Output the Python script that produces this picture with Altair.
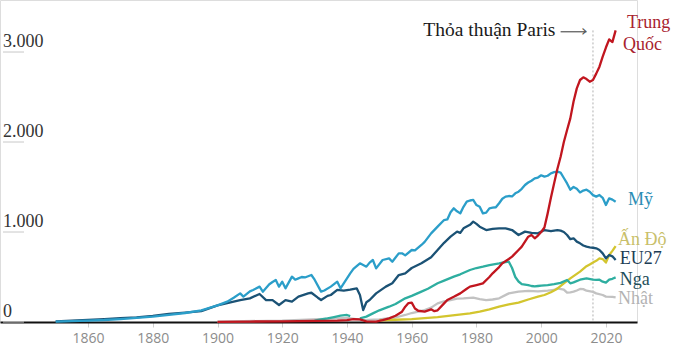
import altair as alt
import pandas as pd

# ---------------- data (million tonnes of carbon) ----------------
us_years = [1850,1855,1860,1865,1870,1875,1880,1885,1890,1895,1900,1903,1905,1907,1908,1910,1911,1913,1914,1916,1917,1918,1919,1920,1921,1923,1924,1925,1926,1927,1929,1930,1932,1933,1935,1937,1938,1939,1941,1942,1944,1946,1947,1948,1949,1951,1953,1954,1956,1957,1958,1960,1961,1963,1964,1966,1968,1970,1971,1972,1973,1974,1975,1976,1977,1978,1979,1980,1981,1982,1983,1984,1985,1986,1987,1988,1989,1990,1991,1992,1993,1994,1995,1996,1997,1998,1999,2000,2001,2002,2003,2004,2005,2006,2007,2008,2009,2010,2011,2012,2013,2014,2015,2016,2017,2018,2019,2020,2021,2022,2023]
us_vals = [5,10,16,22,32,45,60,80,100,130,185,226,270,318,282,340,356,393,337,420,445,467,393,448,374,504,470,485,500,495,522,470,337,350,393,448,374,430,541,590,652,615,660,689,596,689,707,670,763,763,740,800,795,856,890,985,1060,1133,1140,1220,1263,1230,1207,1280,1337,1350,1356,1300,1281,1207,1215,1263,1270,1275,1320,1370,1393,1400,1395,1430,1448,1480,1522,1550,1570,1596,1605,1630,1615,1625,1652,1665,1670,1660,1600,1540,1470,1500,1480,1440,1460,1470,1448,1410,1393,1411,1380,1300,1374,1360,1337]

eu_years = [1850,1855,1860,1865,1870,1875,1880,1885,1890,1895,1900,1903,1907,1910,1913,1915,1917,1919,1921,1923,1925,1928,1929,1931,1932,1934,1935,1937,1939,1941,1943,1944,1945,1946,1947,1949,1952,1954,1956,1958,1960,1963,1966,1968,1970,1972,1974,1975,1976,1978,1979,1980,1981,1983,1985,1987,1989,1991,1993,1995,1997,1999,2001,2003,2005,2006,2007,2008,2009,2010,2011,2012,2013,2014,2015,2016,2017,2018,2019,2020,2021,2022,2023]
eu_vals = [8,14,22,32,42,52,68,90,105,120,185,210,244,263,311,244,244,189,244,226,282,318,325,270,244,290,300,356,348,360,374,300,133,220,244,318,393,430,522,541,600,652,720,800,880,948,1004,990,1041,1080,1115,1090,1059,1022,1035,1041,1040,1022,967,1004,990,985,1022,1010,1022,1015,1000,967,920,930,893,874,850,837,830,825,819,800,763,707,744,730,689]

cn_years = [1900,1910,1920,1930,1937,1940,1942,1944,1946,1949,1951,1953,1955,1957,1958,1959,1960,1961,1962,1964,1966,1967,1968,1970,1971,1973,1975,1977,1978,1980,1982,1984,1985,1987,1988,1990,1991,1993,1994,1996,1997,1998,1999,2000,2001,2002,2003,2004,2005,2006,2007,2008,2009,2010,2011,2012,2013,2014,2015,2016,2017,2018,2019,2020,2021,2022,2023]
cn_vals = [2,5,8,12,15,20,33,30,8,5,20,41,70,115,170,210,215,150,125,115,141,120,130,207,244,280,318,370,393,411,430,500,541,610,652,700,726,800,837,948,967,930,960,1000,1050,1207,1380,1541,1700,1837,2000,2133,2263,2450,2596,2689,2719,2700,2670,2690,2760,2837,2948,3050,3140,3110,3240]

ru_a_years = [1930,1932,1934,1936,1938,1940,1941]
ru_a_vals = [15,28,40,55,70,78,65]
ru_years = [1944,1946,1948,1950,1953,1955,1958,1960,1963,1965,1968,1970,1973,1975,1978,1980,1982,1984,1987,1988,1990,1991,1992,1993,1994,1995,1996,1997,1998,1999,2000,2002,2004,2006,2008,2009,2010,2012,2014,2016,2017,2018,2019,2020,2021,2022,2023]
ru_vals = [41,60,96,130,170,200,263,290,337,370,430,460,504,530,578,600,615,633,652,660,670,600,500,450,420,415,410,400,395,400,405,410,420,435,467,430,440,470,485,470,467,470,448,437,470,480,496]

jp_years = [1900,1920,1937,1940,1945,1950,1955,1958,1960,1962,1964,1966,1968,1970,1972,1974,1976,1979,1981,1983,1985,1987,1990,1993,1996,1999,2002,2004,2005,2007,2008,2009,2010,2011,2012,2013,2014,2016,2017,2019,2020,2022,2023]
jp_vals = [5,15,40,45,20,30,50,78,100,115,133,160,207,230,244,260,263,270,255,244,250,263,318,337,345,340,348,356,374,360,326,330,337,350,367,365,348,335,318,300,282,280,274]

in_years = [1950,1955,1960,1963,1968,1974,1978,1981,1984,1987,1990,1993,1996,1999,2001,2003,2005,2007,2009,2010,2012,2014,2015,2016,2017,2018,2019,2020,2021,2022,2023]
in_vals = [18,25,33,41,55,78,95,115,140,170,195,215,250,282,300,330,370,430,485,510,560,620,640,660,680,707,700,660,744,790,844]

series_names = ["Nhật", "Ấn Độ", "Nga", "EU27", "Mỹ", "Trung Quốc"]
series_colors = ["#c2c2c2", "#d3c52e", "#2eaea0", "#1b5275", "#2b9ec9", "#c1161f"]

label_text = ["Trung", "Quốc", "Mỹ", "Ấn Độ", "EU27", "Nga", "Nhật"]
label_year = [2026.5, 2025.3, 2026.8, 2023.7, 2024.3, 2024.3, 2023.7]
label_val = [3270, 3020, 1300, 855, 640, 411, 200]
label_color = ["#a8222e", "#a8222e", "#2a8db5", "#c9bf6a", "#1d3d55", "#1f4f5a", "#b3b3b3"]

ytick_vals = [0, 1000, 2000, 3000]
ytick_labels = ["0", "1.000", "2.000", "3.000"]
xtick_vals = [1860, 1880, 1900, 1920, 1940, 1960, 1980, 2000, 2020]

paris_year = 2016
paris_text = "Thỏa thuận Paris"

# ---------------- build tables ----------------
series_data = {
    "Nhật": [(jp_years, jp_vals)],
    "Ấn Độ": [(in_years, in_vals)],
    "Nga": [(ru_a_years, ru_a_vals), (ru_years, ru_vals)],
    "EU27": [(eu_years, eu_vals)],
    "Mỹ": [(us_years, us_vals)],
    "Trung Quốc": [(cn_years, cn_vals)],
}

xs = alt.Scale(domain=[1832.8, 2029.6], nice=False, zero=False)
ys = alt.Scale(domain=[0, 3578], nice=False, zero=False)
serif = "Liberation Serif"

xaxis = alt.Axis(values=xtick_vals, format="d", title=None, grid=False,
                 labelFont="Open Sans", labelFontSize=14, labelColor="#8c8c8c",
                 domainColor="#111111", domainWidth=2, tickColor="#cfcfcf",
                 tickSize=5, labelPadding=4, labelFlush=False)

line_layers = []
for name, col in zip(series_names, series_colors):
    rows = []
    for si, (yy, vv) in enumerate(series_data[name]):
        for y, v in zip(yy, vv):
            rows.append({"year": y, "value": v, "seg": si})
    d = pd.DataFrame(rows)
    line_layers.append(
        alt.Chart(d).mark_line(strokeWidth=2.3, strokeJoin="round", color=col).encode(
            x=alt.X("year:Q", scale=xs, axis=xaxis),
            y=alt.Y("value:Q", scale=ys, axis=None),
            detail="seg:N",
            order=alt.Order("year:Q"),
        )
    )

ydf = pd.DataFrame({"v": ytick_vals, "lab": ytick_labels})
ygrid = alt.Chart(ydf).mark_rule(color="#c8c8c8", strokeWidth=1).encode(
    y=alt.Y("v:Q", scale=ys, axis=None), x=alt.value(3), x2=alt.value(24))
ytext = alt.Chart(ydf).mark_text(align="left", baseline="alphabetic", dy=-5,
                                 font=serif, fontSize=18, color="#333333").encode(
    y=alt.Y("v:Q", scale=ys, axis=None), x=alt.value(3), text="lab:N")

pdf = pd.DataFrame({"year": [paris_year], "top": [3240], "bot": [0]})
paris_rule = alt.Chart(pdf).mark_rule(color="#b0b0b0", strokeWidth=1, strokeDash=[2, 2]).encode(
    x=alt.X("year:Q", scale=xs, axis=xaxis), y=alt.Y("top:Q", scale=ys, axis=None), y2="bot:Q")
ptdf = pd.DataFrame({"year": [2004.4], "v": [3178], "t": [paris_text]})
paris_txt = alt.Chart(ptdf).mark_text(align="right", baseline="alphabetic", font=serif,
                                      fontSize=19.5, color="#1a1a1a").encode(
    x=alt.X("year:Q", scale=xs, axis=xaxis), y=alt.Y("v:Q", scale=ys, axis=None), text="t:N")
adf = pd.DataFrame({"x1": [2006.0], "x2": [2014.0], "v": [3225]})
arrow_line = alt.Chart(adf).mark_rule(color="#555555", strokeWidth=1.2).encode(
    x=alt.X("x1:Q", scale=xs, axis=xaxis), x2="x2:Q", y=alt.Y("v:Q", scale=ys, axis=None))
arrow_head = alt.Chart(adf).mark_text(text="›", font="DejaVu Sans", fontSize=16,
                                      align="right", baseline="middle", dx=1, dy=-1,
                                      color="#555555").encode(
    x=alt.X("x2:Q", scale=xs, axis=xaxis), y=alt.Y("v:Q", scale=ys, axis=None))

label_layers = []
for t, yr, v, c in zip(label_text, label_year, label_val, label_color):
    d = pd.DataFrame({"year": [yr], "v": [v], "t": [t]})
    label_layers.append(
        alt.Chart(d).mark_text(align="left", baseline="alphabetic", font=serif,
                               fontSize=18, color=c).encode(
            x=alt.X("year:Q", scale=xs, axis=xaxis),
            y=alt.Y("v:Q", scale=ys, axis=None), text="t:N"))

chart = alt.layer(ygrid, ytext, paris_rule, *line_layers, paris_txt, arrow_line,
                  arrow_head, *label_layers).properties(
    width=637, height=322, autosize="none",
    padding={"left": 0, "top": 0, "right": 43, "bottom": 32},
).configure_view(stroke=None).configure(background="white")

chart.save("out.html", embed_options={"renderer": "svg", "actions": False})
